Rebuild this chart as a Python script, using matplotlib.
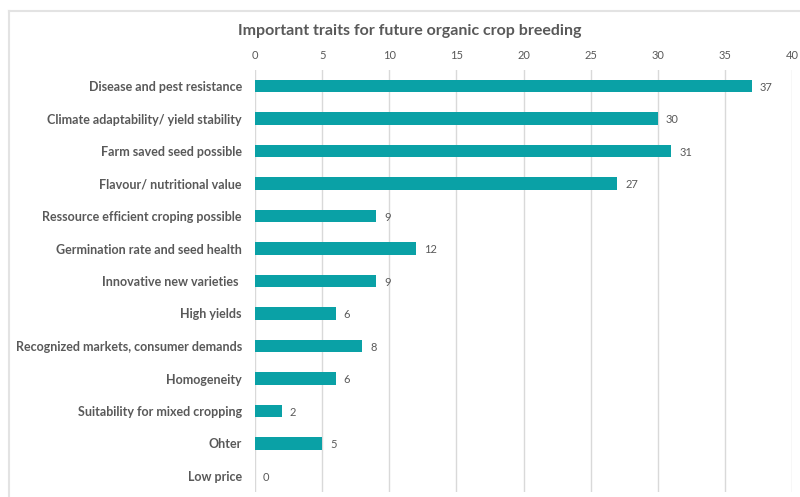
import matplotlib
matplotlib.use("Agg")
import matplotlib.pyplot as plt
from matplotlib.lines import Line2D

categories = [
    "Disease and pest resistance",
    "Climate adaptability/ yield stability",
    "Farm saved seed possible",
    "Flavour/ nutritional value",
    "Ressource efficient croping possible",
    "Germination rate and seed health",
    "Innovative new varieties ",
    "High yields",
    "Recognized markets, consumer demands",
    "Homogeneity",
    "Suitability for mixed cropping",
    "Ohter",
    "Low price",
]
values = [37, 30, 31, 27, 9, 12, 9, 6, 8, 6, 2, 5, 0]
xticks = [0, 5, 10, 15, 20, 25, 30, 35, 40]
title = "Important traits for future organic crop breeding"

plt.rcParams['font.family'] = ['Lato', 'DejaVu Sans']
gray = '#595959'
bar_color = '#0aa1a6'

fig = plt.figure(figsize=(8, 4.97), dpi=100)
ax = fig.add_axes([255/800, (497-492.25)/497, (792-255)/800, (492.25-69.75)/497])

y = list(range(len(categories)))
ax.barh(y, values, height=0.37, color=bar_color, zorder=3)
for yi, v in zip(y, values):
    ax.text(v + 0.6, yi + 0.04, str(v), va='center', ha='left', fontsize=8, color=gray)

ax.set_xlim(0, 40)
ax.set_ylim(len(categories) - 0.5, -0.5)
ax.set_yticks(y)
ax.set_yticklabels(categories, fontsize=9, fontweight='bold', color=gray)
ax.set_xticks(xticks)
ax.set_xticklabels([str(t) for t in xticks], fontsize=8, color=gray)
ax.xaxis.tick_top()
ax.tick_params(axis='both', length=0)
ax.tick_params(axis='y', pad=9.5)
ax.tick_params(axis='x', pad=6.5)
ax.grid(axis='x', color='#d9d9d9', linewidth=1, zorder=0)
for s in ax.spines.values():
    s.set_visible(False)

fig.text(410/800, 1 - 31/497, title, ha='center', va='center', fontsize=11.5,
         fontweight='bold', color=gray)

fig.add_artist(Line2D([9/800, 1], [1 - 11/497, 1 - 11/497], transform=fig.transFigure,
                      color='#e3e3e3', linewidth=1.5))
fig.add_artist(Line2D([9/800, 9/800], [0, 1 - 11/497], transform=fig.transFigure,
                      color='#e3e3e3', linewidth=1.5))

fig.savefig("out.png", dpi=100)
